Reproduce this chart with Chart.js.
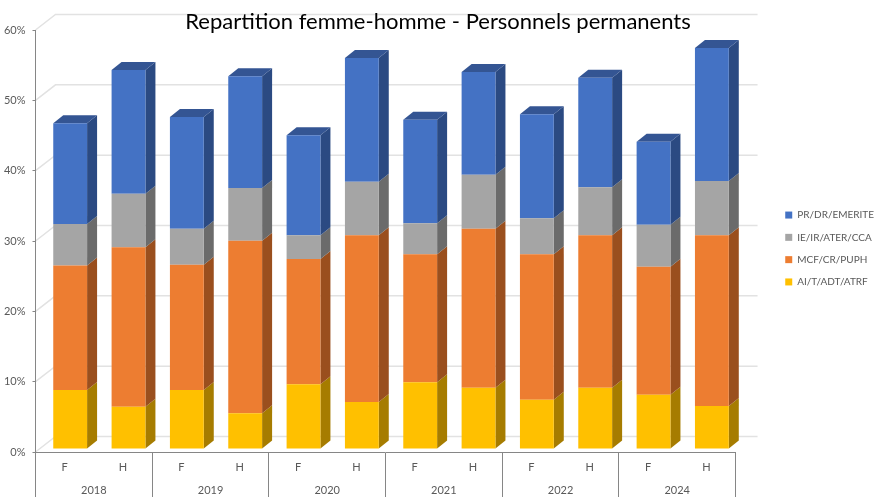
<!DOCTYPE html>
<html>
<head>
<meta charset="utf-8">
<title>Repartition femme-homme</title>
<script src="https://cdn.jsdelivr.net/npm/chart.js@4"></script>
<style>
  html, body { margin: 0; padding: 0; background: #fff; }
  canvas { display: block; }
</style>
</head>
<body>
<canvas id="chart" width="879" height="500"></canvas>
<script>
// Data (share of staff, in %)
const genres = ['F', 'H', 'F', 'H', 'F', 'H', 'F', 'H', 'F', 'H', 'F', 'H'];
const annees = ['2018', '2019', '2020', '2021', '2022', '2024'];
const aiT = [8.4, 6.0, 8.4, 5.1, 9.2, 6.7, 9.5, 8.7, 7.0, 8.7, 7.7, 6.1];
const mcfCr = [17.7, 22.7, 17.8, 24.5, 17.8, 23.7, 18.2, 22.6, 20.7, 21.7, 18.2, 24.3];
const ieIr = [5.9, 7.6, 5.1, 7.5, 3.4, 7.6, 4.4, 7.7, 5.1, 6.8, 6.0, 7.7];
const prDr = [14.3, 17.6, 15.9, 15.9, 14.2, 17.6, 14.7, 14.6, 14.8, 15.6, 11.8, 18.9];

const FONT = 'Lato, Carlito, sans-serif';
const AXIS = '#868686';
const TEXT = '#595959';

// Excel-like 3D look: side colours per dataset
const sideColors = ['#A67C00', '#9A4F1E', '#6B6B6B', '#2B4A82'];
const topColor = '#345593';
const BAR_DEPTH = { x: 10, y: -8 };
const WALL_DEPTH = { x: 20, y: -15.5 };
const BAR_SHIFT = { x: 5.5, y: -3 };

function poly(ctx, color, pts) {
  ctx.fillStyle = color;
  ctx.beginPath();
  pts.forEach((p, i) => i ? ctx.lineTo(p[0], p[1]) : ctx.moveTo(p[0], p[1]));
  ctx.closePath();
  ctx.fill();
}

const walls3d = {
  id: 'walls3d',
  beforeDraw(chart) {
    const { ctx, chartArea, scales } = chart;
    ctx.save();
    ctx.lineWidth = 1.5;
    ctx.strokeStyle = '#E2E2E2';
    scales.y.ticks.forEach(t => {
      const y = scales.y.getPixelForValue(t.value);
      ctx.beginPath();
      ctx.moveTo(chartArea.left, y);
      ctx.lineTo(chartArea.left + WALL_DEPTH.x, y + WALL_DEPTH.y);
      ctx.lineTo(chartArea.right + WALL_DEPTH.x + 2, y + WALL_DEPTH.y);
      ctx.stroke();
    });
    ctx.restore();
  }
};

const bars3d = {
  id: 'bars3d',
  beforeDatasetsDraw(chart) {
    const { ctx } = chart;
    ctx.save();
    ctx.translate(BAR_SHIFT.x, BAR_SHIFT.y);
    const last = chart.data.datasets.length - 1;
    chart.data.datasets.forEach((ds, d) => {
      chart.getDatasetMeta(d).data.forEach(bar => {
        const r = bar.x + bar.width / 2;
        const l = bar.x - bar.width / 2;
        poly(ctx, sideColors[d], [
          [r, bar.y], [r + BAR_DEPTH.x, bar.y + BAR_DEPTH.y],
          [r + BAR_DEPTH.x, bar.base + BAR_DEPTH.y], [r, bar.base]
        ]);
        if (d === last) {
          poly(ctx, topColor, [
            [l, bar.y], [l + BAR_DEPTH.x, bar.y + BAR_DEPTH.y],
            [r + BAR_DEPTH.x, bar.y + BAR_DEPTH.y], [r, bar.y]
          ]);
        }
      });
    });
  },
  afterDatasetsDraw(chart) {
    chart.ctx.restore();
  }
};

function serie(label, data, color) {
  return { label, data, backgroundColor: color, categoryPercentage: 1, barPercentage: 0.58 };
}

new Chart(document.getElementById('chart'), {
  type: 'bar',
  data: {
    labels: genres,
    datasets: [
      serie('AI/T/ADT/ATRF', aiT, '#FFC000'),
      serie('MCF/CR/PUPH', mcfCr, '#ED7D31'),
      serie('IE/IR/ATER/CCA', ieIr, '#A5A5A5'),
      serie('PR/DR/EMERITE', prDr, '#4472C4')
    ]
  },
  plugins: [walls3d, bars3d],
  options: {
    responsive: false,
    animation: false,
    layout: { padding: { left: -8, right: -5, top: 0, bottom: 3 } },
    plugins: {
      tooltip: { enabled: false },
      title: {
        display: true,
        text: 'Repartition femme-homme - Personnels permanents',
        color: '#000',
        font: { family: FONT, size: 22, weight: 'normal', lineHeight: 1.2 },
        padding: { top: 9, bottom: -5.4 }
      },
      legend: {
        position: 'right',
        reverse: true,
        labels: { boxWidth: 7, boxHeight: 7, padding: 12.3, color: TEXT, font: { family: FONT, size: 10 } }
      }
    },
    scales: {
      x: {
        stacked: true,
        position: 'bottom',
        afterFit: s => { s.height = 22; },
        border: { color: AXIS },
        grid: {
          offset: true,
          drawOnChartArea: false,
          tickLength: 22,
          color: c => (c.index === undefined || c.index % 2 === 0) ? AXIS : 'rgba(0,0,0,0)'
        },
        ticks: { padding: -13, color: TEXT, font: { family: FONT, size: 11 }, maxRotation: 0, autoSkip: false }
      },
      x2: {
        type: 'category',
        labels: annees,
        position: 'bottom',
        afterFit: s => { s.height = 23; },
        border: { display: false },
        grid: { offset: true, drawOnChartArea: false, tickLength: 23, color: AXIS },
        ticks: { padding: -13, color: TEXT, font: { family: FONT, size: 11 }, maxRotation: 0 }
      },
      y: {
        stacked: true,
        min: 0,
        max: 60,
        afterFit: s => { s.width = 43.5; },
        border: { color: AXIS },
        grid: { drawOnChartArea: false, tickLength: 3, color: AXIS },
        ticks: { stepSize: 10, padding: 7, color: TEXT, font: { family: FONT, size: 11 }, callback: v => v + '%' }
      },
      // empty axis: keeps the gap between the plot and the legend
      gap: {
        type: 'linear',
        position: 'right',
        min: 0,
        max: 1,
        afterFit: s => { s.width = 37.4; },
        border: { display: false },
        grid: { display: false },
        ticks: { display: false }
      }
    }
  }
});
</script>
</body>
</html>
